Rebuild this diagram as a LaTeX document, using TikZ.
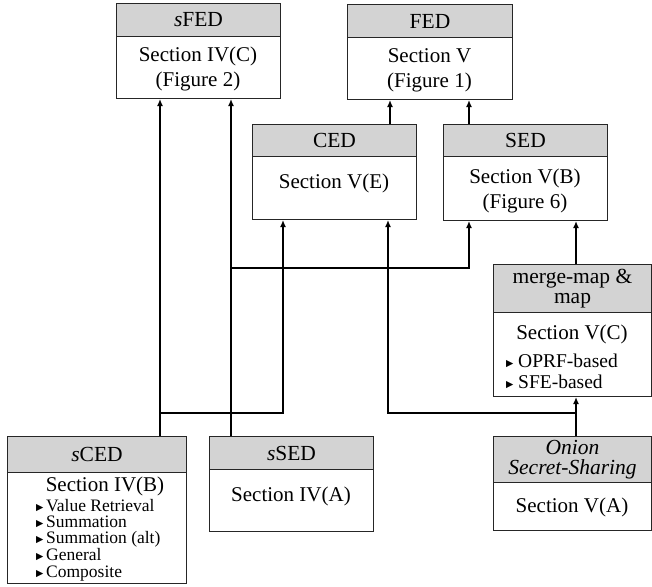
\documentclass[tikz,border=0pt]{standalone}
\usepackage{fontspec}
\setmainfont{Liberation Serif}
\newfontfamily\symf{DejaVu Sans}
\usetikzlibrary{arrows.meta}
\definecolor{hdrgray}{HTML}{D3D3D3}
\newcommand\tri{{\symf\fontsize{9.5}{9.5}\selectfont ▶}}
\tikzset{
  hdr/.style={draw=black!85, fill=hdrgray, line width=1pt, anchor=north west, inner sep=0pt, align=center, font=\fontsize{21.5}{20}\selectfont},
  bodybox/.style={draw=black!85, fill=white, line width=1pt, anchor=north west, inner sep=0pt},
  txt/.style={inner sep=0pt, align=center, font=\fontsize{21}{25}\selectfont},
  smalltxt/.style={inner sep=0pt, anchor=base west, font=\fontsize{17.5}{17.5}\selectfont},
  midtxt/.style={inner sep=0pt, anchor=base west, font=\fontsize{19.5}{19.5}\selectfont},
  bullet/.style={inner sep=0pt, anchor=base west},
  conn/.style={line width=1.5pt, -{Latex[length=7pt,width=6pt]}}
}
\begin{document}
\begin{tikzpicture}[x={(1pt,0pt)}, y={(0pt,-1pt)}]
\useasboundingbox (0,0) rectangle (652,586);

% sFED
\node[bodybox, minimum width=164pt, minimum height=62pt] (sfed) at (116,36) {};
\node[hdr, minimum width=164pt, minimum height=33pt] (sfedh) at (116,3) {\textit{s}FED};
\node[txt] (sfedt) at (198,69) {Section IV(C)\\(Figure 2)};

% FED
\node[bodybox, minimum width=165pt, minimum height=62pt] (fed) at (347,37) {};
\node[hdr, minimum width=165pt, minimum height=33pt] (fedh) at (347,4) {FED};
\node[txt] (fedt) at (429.5,70) {Section V\\(Figure 1)};

% CED
\node[bodybox, minimum width=164pt, minimum height=63pt] (ced) at (252,156) {};
\node[hdr, minimum width=164pt, minimum height=32pt] (cedh) at (252,124) {CED};
\node[txt] (cedt) at (334,183) {Section V(E)};

% SED
\node[bodybox, minimum width=164pt, minimum height=64pt] (sed) at (443,156) {};
\node[hdr, minimum width=164pt, minimum height=32pt] (sedh) at (443,124) {SED};
\node[txt] (sedt) at (525,191) {Section V(B)\\(Figure 6)};

% merge-map & map
\node[bodybox, minimum width=158pt, minimum height=84pt] (merge) at (493,312) {};
\node[hdr, minimum width=158pt, minimum height=48pt] (mergeh) at (493,264) {merge-map \&\\map};
\node[txt] (merget) at (572,334) {Section V(C)};
\node[bullet] (mb1) at (506,366) {\tri};
\node[midtxt] (mt1) at (518,367) {OPRF-based};
\node[bullet] (mb2) at (506,387) {\tri};
\node[midtxt] (mt2) at (518,388) {SFE-based};

% Onion Secret-Sharing
\node[bodybox, minimum width=158pt, minimum height=48pt] (onion) at (493,482) {};
\node[hdr, minimum width=158pt, minimum height=46pt] (onionh) at (493,436) {\textit{Onion}\\\textit{Secret-Sharing}};
\node[txt] (oniont) at (572,507) {Section V(A)};

% sCED
\node[bodybox, minimum width=179pt, minimum height=111pt] (sced) at (7,472) {};
\node[hdr, minimum width=179pt, minimum height=36pt] (scedh) at (7,436) {\textit{s}CED};
\node[txt] (scedt) at (105,486) {Section IV(B)};
\node[bullet] (sb1) at (36,510) {\tri};
\node[smalltxt] (st1) at (46,511) {Value Retrieval};
\node[bullet] (sb2) at (36,526) {\tri};
\node[smalltxt] (st2) at (46,527) {Summation};
\node[bullet] (sb3) at (36,542) {\tri};
\node[smalltxt] (st3) at (46,543) {Summation (alt)};
\node[bullet] (sb4) at (36,559) {\tri};
\node[smalltxt] (st4) at (46,560) {General};
\node[bullet] (sb5) at (36,576) {\tri};
\node[smalltxt] (st5) at (46,577) {Composite};

% sSED
\node[bodybox, minimum width=164pt, minimum height=62pt] (ssed) at (209,469) {};
\node[hdr, minimum width=164pt, minimum height=33pt] (ssedh) at (209,436) {\textit{s}SED};
\node[txt] (ssedt) at (291,496) {Section IV(A)};

% junctions
\coordinate (ja) at (160,413);
\coordinate (jb) at (283,413);
\coordinate (jc) at (231,268);
\coordinate (jd) at (469,268);
\coordinate (je) at (388,413);
\coordinate (jf) at (576,413);
\coordinate (jg) at (390,0);

% connectors
\draw[conn] (ja |- scedh.north) -- (ja |- sfed.south);
\draw[conn] (ja) -- (jb) -- (jb |- ced.south);
\draw[conn] (jc |- ssedh.north) -- (jc |- sfed.south);
\draw[conn] (jc) -- (jd) -- (jd |- sed.south);
\draw[conn] (jf |- onionh.north) -- (jf |- merge.south);
\draw[conn] (jf) -- (je) -- (je |- ced.south);
\draw[conn] (jf |- mergeh.north) -- (jf |- sed.south);
\draw[conn] (jg |- cedh.north) -- (jg |- fed.south);
\draw[conn] (jd |- sedh.north) -- (jd |- fed.south);
\end{tikzpicture}
\end{document}
